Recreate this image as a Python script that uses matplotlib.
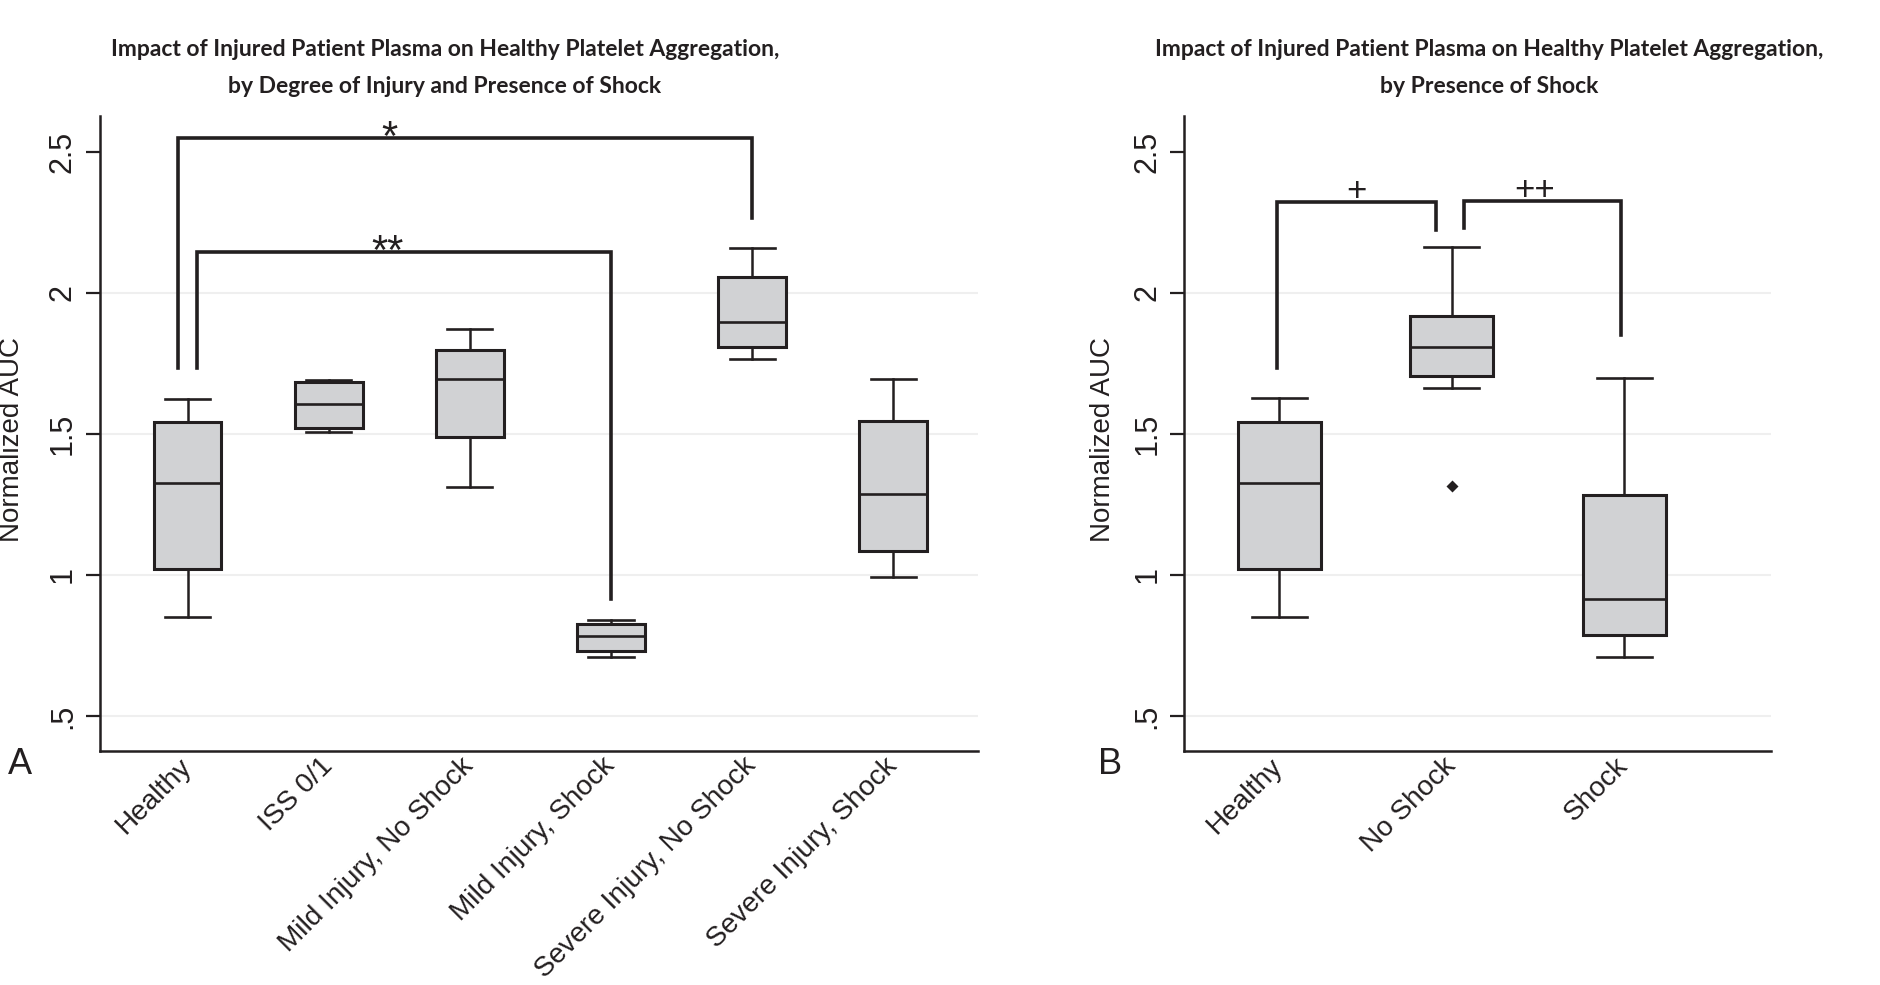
import matplotlib
matplotlib.use('Agg')
import matplotlib.pyplot as plt

plt.rcParams['font.family'] = ['Liberation Sans', 'DejaVu Sans']

# Panel A: degree of injury and shock (box summary)
groups_a = ['Healthy', 'ISS 0/1', 'Mild Injury, No Shock', 'Mild Injury, Shock',
            'Severe Injury, No Shock', 'Severe Injury, Shock']
whislo_a = [0.850, 1.506, 1.310, 0.710, 1.765, 0.993]
q1_a = [1.022, 1.520, 1.489, 0.731, 1.807, 1.084]
med_a = [1.326, 1.605, 1.696, 0.785, 1.898, 1.287]
q3_a = [1.542, 1.683, 1.799, 0.825, 2.055, 1.546]
whishi_a = [1.625, 1.691, 1.873, 0.839, 2.158, 1.694]
fliers_a = [[], [], [], [], [], []]

# Panel B: presence of shock
groups_b = ['Healthy', 'No Shock', 'Shock']
whislo_b = [0.850, 1.663, 0.710]
q1_b = [1.022, 1.705, 0.788]
med_b = [1.327, 1.807, 0.916]
q3_b = [1.543, 1.918, 1.284]
whishi_b = [1.628, 2.164, 1.699]
fliers_b = [[], [1.314], []]

# significance brackets: left x, right x, bar level, left leg end, right leg end, label x, label
brackets_a = [(-0.07, 4.0, 2.549, 1.733, 2.264, 1.43, '*'),
              (0.07, 3.0, 2.144, 1.733, 0.916, 1.42, '**')]
brackets_b = [(-0.015, 0.908, 2.323, 1.733, 2.223, 0.45, '+'),
              (1.068, 1.98, 2.327, 2.229, 1.851, 1.48, '++')]

yticks = [0.5, 1, 1.5, 2, 2.5]
ytick_labels = ['.5', '1', '1.5', '2', '2.5']
grid_vals = [0.5, 1, 1.5, 2]

dark = '#231f20'
fill = '#d1d2d4'

title_text = ['Impact of Injured Patient Plasma on Healthy Platelet Aggregation,\n'
              'by Degree of Injury and Presence of Shock',
              'Impact of Injured Patient Plasma on Healthy Platelet Aggregation,\n'
              'by Presence of Shock']


def draw_panel(ax, names, lo, q1, med, q3, hi, fl, brackets, xlim, ylab_x):
    stats = []
    for i in range(len(names)):
        stats.append(dict(label=names[i], whislo=lo[i], q1=q1[i], med=med[i],
                          q3=q3[i], whishi=hi[i], fliers=fl[i]))
    for g in grid_vals:
        ax.axhline(g, color='#efefef', lw=1.5, zorder=0)
    ax.bxp(stats, positions=range(len(names)), widths=0.48, capwidths=0.32,
           patch_artist=True,
           boxprops=dict(facecolor=fill, edgecolor=dark, linewidth=2.2),
           medianprops=dict(color=dark, linewidth=1.9),
           whiskerprops=dict(color=dark, linewidth=1.8),
           capprops=dict(color=dark, linewidth=1.9),
           flierprops=dict(marker='D', markersize=6.5, markerfacecolor=dark,
                           markeredgecolor='none'))

    # brackets with their significance marks
    for x1, x2, top, leg1, leg2, lx, lab in brackets:
        ax.plot([x1, x1, x2, x2], [leg1, top, top, leg2], color=dark, lw=2.6,
                solid_joinstyle='miter')
        if '*' in lab:
            size, dy = 30, -8.5
        else:
            size, dy = 25, 0.5
        ax.annotate(lab, xy=(lx, top), xytext=(0, dy), textcoords='offset points',
                    ha='center', va='baseline', fontsize=size, color=dark)

    ax.set_xlim(*xlim)
    ax.set_ylim(0.376, 2.628)
    ax.set_yticks(yticks)
    ax.set_yticklabels(ytick_labels, rotation=90, va='center', fontsize=22)
    ax.tick_params(axis='y', length=10, width=1.6, pad=6, color=dark, labelcolor=dark)
    ax.tick_params(axis='x', length=0, pad=8)
    for lbl in ax.get_xticklabels():
        lbl.set_rotation(45)
        lbl.set_ha('right')
        lbl.set_va('center')
        lbl.set_rotation_mode('anchor')
        lbl.set_fontsize(20.2)
        lbl.set_color(dark)
    ax.set_ylabel('Normalized AUC', fontsize=20, color=dark)
    ax.yaxis.set_label_coords(ylab_x, 0.49)
    for s in ['top', 'right']:
        ax.spines[s].set_visible(False)
    for s in ['left', 'bottom']:
        ax.spines[s].set_linewidth(1.8)
        ax.spines[s].set_color(dark)


fig = plt.figure(figsize=(18.8, 9.85), dpi=100)
ax1 = fig.add_axes([0.0532, 0.2376, 0.467, 0.645])
ax2 = fig.add_axes([0.630, 0.2376, 0.312, 0.645])

draw_panel(ax1, groups_a, whislo_a, q1_a, med_a, q3_a, whishi_a, fliers_a,
           brackets_a, (-0.62, 5.6), -0.085)
draw_panel(ax2, groups_b, whislo_b, q1_b, med_b, q3_b, whishi_b, fliers_b,
           brackets_b, (-0.55, 2.85), -0.117)

for cx, txt in zip([445, 1489], title_text):
    fig.text(cx / 1880, 1 - 68 / 985, txt, ha='center', va='center',
             fontsize=16.5, fontweight='bold', family='Lato', linespacing=1.95, color=dark)

fig.text(20 / 1880, 1 - 764 / 985, 'A', ha='center', va='center', fontsize=26, color=dark)
fig.text(1110 / 1880, 1 - 764 / 985, 'B', ha='center', va='center', fontsize=26, color=dark)

fig.savefig('out.png', dpi=100)
